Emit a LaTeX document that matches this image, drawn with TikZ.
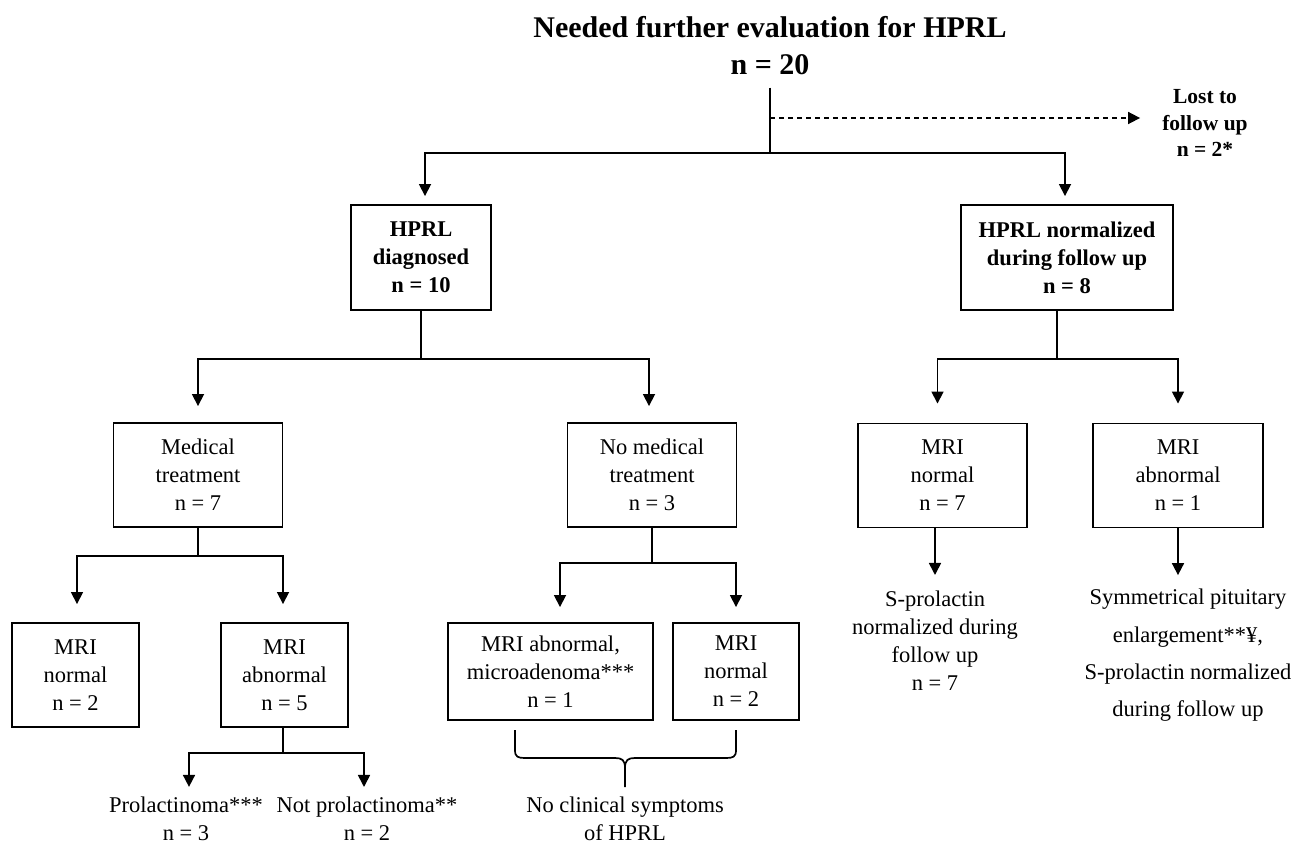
\documentclass[tikz,border=0pt]{standalone}
\usepackage{fontspec}
\setmainfont{Liberation Serif}
\usetikzlibrary{arrows.meta,calc}
\newcommand\bodyfont{\fontsize{22.5}{28}\selectfont}
\newcommand\titlefont{\fontsize{30}{37}\selectfont\bfseries}
\newcommand\lostfont{\fontsize{21.5}{26.5}\selectfont\bfseries}
\newcommand\symfont{\fontsize{22.5}{37.3}\selectfont}
\begin{document}
\begin{tikzpicture}[x=1pt,y=-1pt,
  box/.style={draw, line width=1.9pt, align=center, inner sep=0pt, font=\bodyfont},
  bbox/.style={box, font=\bodyfont\bfseries},
  txt/.style={align=center, inner sep=0pt, font=\bodyfont},
  line/.style={line width=1.7pt},
  arr/.style={line, -{Triangle[length=12pt,width=12pt]}},
]
\useasboundingbox[fill=white] (0,0) rectangle (1294,845);

% title and top-level nodes
\node[txt, font=\titlefont] (t) at (770,45.3) {Needed further evaluation for HPRL\\n = 20};
\node[txt, font=\lostfont] (lost) at (1205,123) {Lost to\\follow up\\n = 2*};
\node[bbox, minimum width=140pt, minimum height=105pt] (hd) at (421,257.5) {HPRL\\diagnosed\\n = 10};
\node[bbox, minimum width=212pt, minimum height=105pt] (hn) at (1067,257.5) {HPRL normalized\\during follow up\\n = 8};

% second level
\node[box, minimum width=169pt, minimum height=104pt] (mt) at (198,475) {Medical\\treatment\\n = 7};
\node[box, minimum width=169pt, minimum height=104pt] (nmt) at (652,475) {No medical\\treatment\\n = 3};
\node[box, minimum width=169pt, minimum height=104pt] (mn3) at (942.5,475.5) {MRI\\normal\\n = 7};
\node[box, minimum width=170pt, minimum height=104pt] (ma3) at (1178,475.5) {MRI\\abnormal\\n = 1};

% third level
\node[box, minimum width=127pt, minimum height=104pt] (mn1) at (75.5,675) {MRI\\normal\\n = 2};
\node[box, minimum width=127pt, minimum height=104pt] (ma1) at (284.5,675) {MRI\\abnormal\\n = 5};
\node[box, minimum width=205pt, minimum height=97pt] (ma2) at (550.5,671.5) {MRI abnormal,\\microadenoma***\\n = 1};
\node[box, minimum width=126pt, minimum height=97pt] (mn2) at (736,671.5) {MRI\\normal\\n = 2};

% leaf texts
\node[txt] (prol) at (186,819) {Prolactinoma***\\n = 3};
\node[txt] (nprol) at (367,819) {Not prolactinoma**\\n = 2};
\node[txt] (ncs) at (625,818.5) {No clinical symptoms\\of HPRL};
\node[txt] (sp) at (935,641) {S-prolactin\\normalized during\\follow up\\n = 7};
\node[txt, font=\symfont] (sym) at (1188,655.5) {Symmetrical pituitary\\enlargement**¥,\\S-prolactin normalized\\during follow up};

% connectors: top
\coordinate (j0) at (770,153);
\coordinate (jd) at (770,118);
\draw[line] ([yshift=-13pt]t.south) -- (j0);
\draw[arr, shorten >=8pt] (j0) -| ([xshift=4pt]hd.north);
\draw[arr, shorten >=8pt] (j0) -| ([xshift=-2pt]hn.north);
\draw[arr, dash pattern=on 5pt off 4pt, shorten >=22pt] (jd) -- (jd -| lost.west);

% HPRL diagnosed branch
\draw[line] (hd.south) -- ++(0,48) coordinate (j1);
\draw[arr, shorten >=16pt] (j1) -| (mt.north);
\draw[arr, shorten >=16pt] (j1) -| ([xshift=-3pt]nmt.north);

% HPRL normalized branch
\draw[line] ([xshift=-10pt]hn.south) -- ++(0,48) coordinate (j2);
\draw[arr, shorten >=19pt] (j2) -| ([xshift=-5pt]mn3.north);
\draw[arr, shorten >=19pt] (j2) -| (ma3.north);

% Medical treatment branch
\draw[line] (mt.south) -- ++(0,28) coordinate (j3);
\draw[arr, shorten >=18pt] (j3) -| ([xshift=1.5pt]mn1.north);
\draw[arr, shorten >=18pt] (j3) -| ([xshift=-1.5pt]ma1.north);

% MRI abnormal n=5 branch
\draw[line] ([xshift=-1.5pt]ma1.south) -- ++(0,25) coordinate (j4);
\draw[arr, shorten >=10pt] (j4) -| ([xshift=3pt]prol.north);
\draw[arr, shorten >=10pt] (j4) -| ([xshift=-3pt]nprol.north);

% No medical treatment branch
\draw[line] (nmt.south) -- ++(0,35) coordinate (j5);
\draw[arr, shorten >=15pt] (j5) -| ([xshift=9.5pt]ma2.north);
\draw[arr, shorten >=15pt] (j5) -| (mn2.north);

% right leaves
\draw[arr, shorten >=16pt] (mn3.south -| sp.north) -- (sp.north);
\draw[arr, shorten >=14pt] (ma3.south) -- (ma3.south |- sym.north);

% brace
\coordinate (bl) at (515,730);
\coordinate (br) at (736,730);
\coordinate (bt) at (625,787);
\draw[line] (bl) -- (515,750) .. controls (515,757) and (518,758) .. (525,758) -- (615,758)
  .. controls (622,758) and (625,760) .. (625,768) -- (bt);
\draw[line] (br) -- (736,750) .. controls (736,757) and (733,758) .. (726,758) -- (635,758)
  .. controls (628,758) and (625,760) .. (625,768);
\end{tikzpicture}
\end{document}
